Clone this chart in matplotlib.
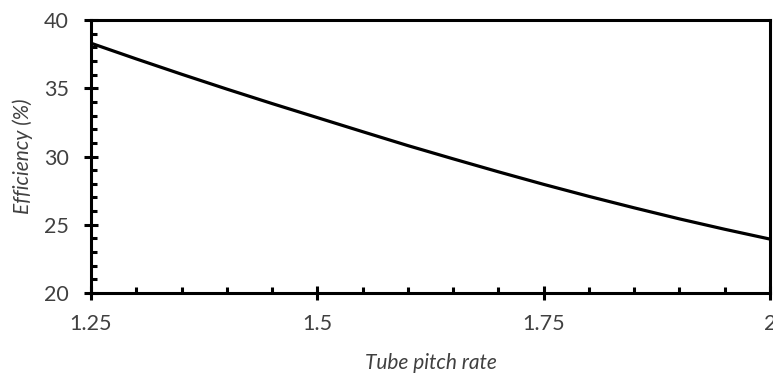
import matplotlib
matplotlib.use("Agg")
from matplotlib import pyplot as plt
from matplotlib.ticker import MultipleLocator, FixedLocator

# data
pitch = [1.25, 1.30, 1.35, 1.40, 1.45, 1.50, 1.55, 1.60,
         1.65, 1.70, 1.75, 1.80, 1.85, 1.90, 1.95, 2.00]
efficiency = [38.3, 37.15, 36.03, 34.94, 33.88, 32.85, 31.82, 30.8,
              29.83, 28.88, 27.96, 27.08, 26.24, 25.43, 24.67, 23.95]
xticks = [1.25, 1.5, 1.75, 2.0]
xtick_labels = ["1.25", "1.5", "1.75", "2"]
yticks = [20, 25, 30, 35, 40]

plt.rcParams['font.family'] = ['Lato', 'DejaVu Sans']
text_col = '#404040'

fig = plt.figure(figsize=(7.73, 3.76), dpi=100)
ax = fig.add_axes([0.1177, 0.2207, 0.8784, 0.7261])

ax.plot(pitch, efficiency, color='black', lw=2.3, solid_capstyle='butt',
        solid_joinstyle='round')

ax.set_xlim(1.25, 2.0)
ax.set_ylim(20, 40)
ax.xaxis.set_major_locator(FixedLocator(xticks))
ax.set_xticklabels(xtick_labels)
ax.xaxis.set_minor_locator(MultipleLocator(0.05))
ax.yaxis.set_major_locator(FixedLocator(yticks))
ax.yaxis.set_minor_locator(MultipleLocator(1))

for s in ax.spines.values():
    s.set_linewidth(2.2)
    s.set_color('black')

ax.tick_params(which='major', direction='inout', length=10, width=2.2, color='black',
               labelsize=15.5, labelcolor=text_col)
ax.tick_params(axis='x', which='major', pad=10)
ax.tick_params(axis='y', which='major', pad=11)
ax.tick_params(which='minor', direction='in', length=4, width=2.2, color='black')

ax.set_xlabel('Tube pitch rate', fontsize=15, style='italic', color=text_col, labelpad=14)
ax.set_ylabel('Efficiency (%)', fontsize=15, style='italic', color=text_col, labelpad=8)

fig.savefig('out.png', dpi=100)
